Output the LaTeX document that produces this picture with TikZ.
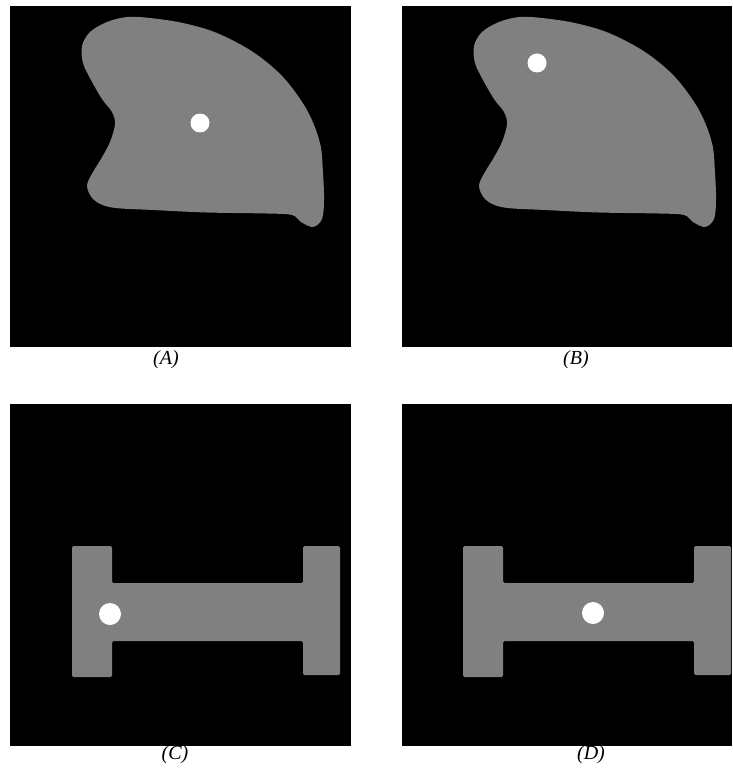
\documentclass[tikz,border=0pt]{standalone}
\usepackage{fontspec}
\setmainfont{Liberation Serif}
\begin{document}
\begin{tikzpicture}[x=1pt,y=-1pt,
  panel/.style={fill=black},
  shapefill/.style={fill=gray50},
  dot/.style={fill=white},
  lbl/.style={font=\fontsize{20}{22}\selectfont\itshape, inner sep=0pt, anchor=center}]
\definecolor{gray50}{RGB}{128,128,128}
\useasboundingbox[fill=white] (0,0) rectangle (732,770);
% panels
\fill[panel] (10,6) rectangle (351,347);
\fill[panel] (402,6) rectangle (732,347);
\fill[panel] (10,404) rectangle (351,746);
\fill[panel] (402,404) rectangle (732,746);
% blobs
\foreach \dx in {0,392}{
\begin{scope}[xshift=\dx]
\fill[shapefill] plot[smooth cycle, tension=0.55] coordinates {
 (82,46) (90,32) (107,22) (127,17) (150,18) (183,23) (217,33) (253,52)
 (283,77) (307,110) (320,143) (323,173) (324,200) (322,219) (313,227)
 (301,222) (292,215) (267,213.5) (207,212.5) (153,210) (112,207.5) (94,200)
 (87,186) (93,172) (101,159) (110,142) (115,124) (112,112) (102,99) (91,80) (83,63)};
\end{scope}}
% I shapes
\foreach \dx in {0,391}{
\begin{scope}[xshift=\dx]
\fill[shapefill, rounded corners=1.5pt] (72,546) -- (112,546) -- (112,583) -- (303,583) -- (303,546) -- (340,546)
  -- (340,675) -- (303,675) -- (303,641) -- (112,641) -- (112,677) -- (72,677) -- cycle;
\end{scope}}
% dots
\fill[dot] (200,123) circle (9.5);
\fill[dot] (537,63) circle (9.5);
\fill[dot] (110,614) circle (11);
\fill[dot] (593,613) circle (11);
% labels
\node[lbl] (la) at (166,360) {(A)};
\node[lbl] (lb) at (576,360) {(B)};
\node[lbl] (lc) at (175,755) {(C)};
\node[lbl] (ld) at (591,755) {(D)};
\end{tikzpicture}
\end{document}
